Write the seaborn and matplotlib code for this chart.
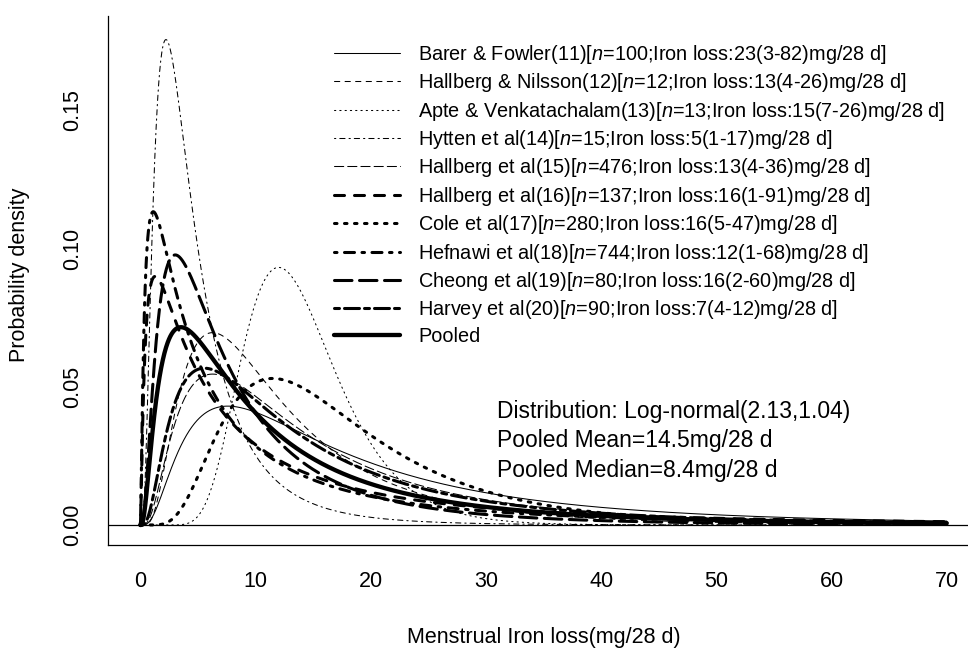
import numpy as np
import pandas as pd
import matplotlib
matplotlib.use("Agg")
import matplotlib.pyplot as plt
import seaborn as sns
from matplotlib.lines import Line2D

# ---- data (log-normal parameters of each study's curve) ----
studies = ["Barer & Fowler(11)", "Hallberg & Nilsson(12)", "Apte & Venkatachalam(13)",
           "Hytten et al(14)", "Hallberg et al(15)", "Hallberg et al(16)", "Cole et al(17)",
           "Hefnawi et al(18)", "Cheong et al(19)", "Harvey et al(20)", "Pooled"]
n_values = [100, 12, 13, 15, 476, 137, 280, 744, 80, 90, None]
iron_loss = ["23(3-82)", "13(4-26)", "15(7-26)", "5(1-17)", "13(4-36)", "16(1-91)",
             "16(5-47)", "12(1-68)", "16(2-60)", "7(4-12)", None]
meanlog = [2.751, 2.341, 2.599, 1.383, 2.521, 2.106, 2.755, 1.849, 1.918, 2.469, 2.219]
sdlog = [0.851, 0.710, 0.337, 0.762, 0.827, 1.358, 0.560, 1.314, 0.898, 0.868, 0.979]
x_range = [0.0, 70.0]
x_ticks = [0, 10, 20, 30, 40, 50, 60, 70]
y_ticks = [0.00, 0.05, 0.10, 0.15]
info_lines = ["Distribution: Log-normal(2.13,1.04)", "Pooled Mean=14.5mg/28 d",
              "Pooled Median=8.4mg/28 d"]

# ---- styles (R-like lty patterns; units in points) ----
thin, thick, pooled_w = 0.75, 2.2, 3.1
ut, uk = 0.95, 1.8
def pat(seq, u):
    return (0, tuple(v * u for v in seq))
styles = [
    ("-", thin), (pat((4, 4), ut), thin), (pat((1, 3), ut), thin), (pat((1, 3, 4, 3), ut), thin),
    (pat((7, 3), ut), thin), (pat((4, 4), uk), thick), (pat((1, 3), uk), thick),
    (pat((1, 3, 4, 3), uk), thick), (pat((7, 3), uk), thick), (pat((2, 2, 6, 2), uk), thick),
    ("-", pooled_w),
]

sns.set_style("white")
plt.rcParams["font.family"] = ["Liberation Sans", "DejaVu Sans"]
plt.rcParams["mathtext.fontset"] = "custom"
plt.rcParams["mathtext.rm"] = "Liberation Sans"
plt.rcParams["mathtext.it"] = "Liberation Sans:italic"
plt.rcParams["lines.scale_dashes"] = False
plt.rcParams["font.size"] = 15
plt.rcParams["text.color"] = "black"
plt.rcParams["axes.labelcolor"] = "black"
plt.rcParams["xtick.color"] = "black"
plt.rcParams["ytick.color"] = "black"

fig = plt.figure(figsize=(9.68, 6.48), dpi=100)
W, H = 968, 648
ax = fig.add_axes([108 / W, 1 - 544.6 / H, (979 - 108) / W, (544.6 - 16) / H])

x = np.linspace(1e-4, x_range[1], 3000)
handles = []
labels = []
for i, name in enumerate(studies):
    mu, s = meanlog[i], sdlog[i]
    dens = np.exp(-(np.log(x) - mu) ** 2 / (2 * s ** 2)) / (x * s * np.sqrt(2 * np.pi))
    df = pd.DataFrame({"x": np.r_[0.0, x], "y": np.r_[0.0, dens]})
    ls, lw = styles[i]
    sns.lineplot(data=df, x="x", y="y", ax=ax, color="black", linewidth=lw,
                 linestyle=ls, sort=False, estimator=None, dash_capstyle="round")
    handles.append(Line2D([], [], color="black", linewidth=lw, linestyle=ls,
                          dash_capstyle="round"))
    if n_values[i] is None:
        labels.append(name)
    else:
        labels.append(f"{name}[$n$={n_values[i]};Iron loss:{iron_loss[i]}mg/28 d]")

ax.axhline(0, color="black", linewidth=0.9)

ymax = 0.177
ax.set_xlim(x_range[0] - 0.04 * 70, x_range[1] + 0.04 * 70)
ax.set_ylim(-0.04 * ymax, ymax * 1.04)
ax.set_xticks(x_ticks)
ax.set_yticks(y_ticks)
ax.set_xticklabels([str(t) for t in x_ticks])
ax.set_yticklabels([f"{t:.2f}" for t in y_ticks], rotation=90, va="center")
for sp in ["top", "right"]:
    ax.spines[sp].set_visible(False)
for sp in ["left", "bottom"]:
    ax.spines[sp].set_linewidth(0.9)
    ax.spines[sp].set_color("black")
ax.tick_params(direction="out", length=9, width=0.9, colors="black", labelsize=15.5)
ax.tick_params(axis="x", pad=10)
ax.tick_params(axis="y", pad=9)
ax.set_xlabel("Menstrual Iron loss(mg/28 d)", fontsize=15.5, color="black")
ax.set_ylabel("Probability density", fontsize=15.5, color="black")
ax.xaxis.set_label_coords(0.5, (544.6 - 637) / 528.6)
ax.xaxis.label.set_va("center")
ax.yaxis.set_label_coords((20 - 108) / 871, 0.51)
ax.yaxis.label.set_va("center")

leg = ax.legend(handles, labels, loc="upper left",
                bbox_to_anchor=((334 - 108) / 871, 1 - (43 - 16) / 528.6),
                frameon=False, fontsize=14.3, handlelength=3.3, handletextpad=0.95,
                labelspacing=0.27, borderaxespad=0, borderpad=0, labelcolor="black")

for k, t in enumerate(info_lines):
    ax.text(31.0, 0.0412 - k * 0.0107, t, fontsize=16.5, va="center", ha="left",
            color="black")

fig.savefig("out.png", dpi=100)
